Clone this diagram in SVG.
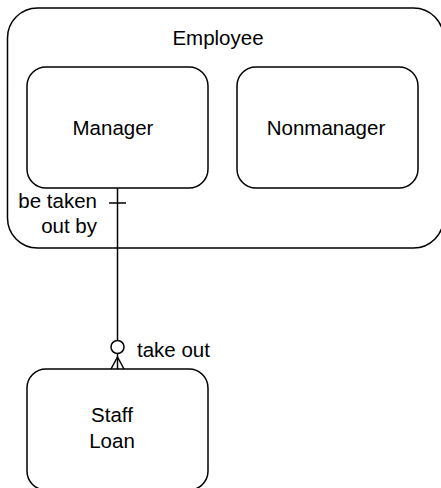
<svg xmlns="http://www.w3.org/2000/svg" width="441" height="488" viewBox="0 0 441 488">
  <style>
    .box { fill: #fff; stroke: #000; stroke-width: 1.5; }
    .ln { fill: none; stroke: #000; stroke-width: 1.5; }
    text { font-family: "Liberation Sans", Arial, sans-serif; font-size: 20.5px; fill: #000; }
    .c { text-anchor: middle; }
    .r { text-anchor: end; }
  </style>
  <rect width="441" height="488" fill="#fff"/>
  <g id="employee">
    <rect class="box" x="7.5" y="8" width="436" height="240" rx="30" ry="30"/>
    <text class="c" x="218" y="45">Employee</text>
  </g>
  <g id="manager">
    <rect class="box" x="27" y="67" width="181" height="121" rx="19" ry="19"/>
    <text class="c" x="113" y="135">Manager</text>
  </g>
  <g id="nonmanager">
    <rect class="box" x="237" y="67" width="181" height="121" rx="19" ry="19"/>
    <text class="c" x="326" y="135">Nonmanager</text>
  </g>
  <g id="staff-loan">
    <rect class="box" x="27" y="369" width="181" height="121" rx="19" ry="19"/>
    <text class="c" x="112" y="422">Staff</text>
    <text class="c" x="112" y="448">Loan</text>
  </g>
  <g id="connectors">
    <line class="ln" x1="117.5" y1="188" x2="117.5" y2="340.5"/>
    <line class="ln" x1="109" y1="203" x2="126" y2="203"/>
    <circle class="ln" cx="117.5" cy="347" r="6.5"/>
    <line class="ln" x1="117.5" y1="353.5" x2="117.5" y2="369"/>
    <path class="ln" d="M111 369 L117.5 357 L124 369"/>
    <text class="r" x="97" y="208">be taken</text>
    <text class="r" x="97" y="233">out by</text>
    <text x="137" y="357">take out</text>
  </g>
</svg>
